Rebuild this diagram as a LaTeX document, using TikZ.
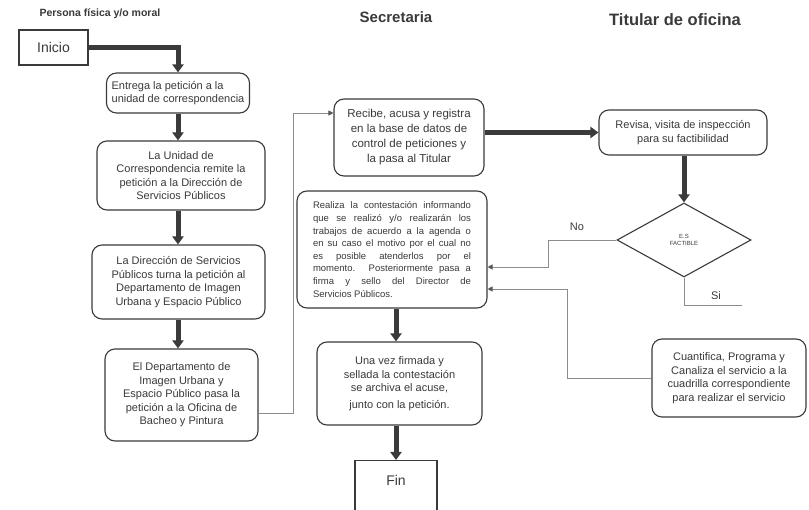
\documentclass[tikz,border=0pt]{standalone}
\usepackage{fontspec}
\setmainfont{Liberation Sans}
\usetikzlibrary{arrows.meta,shapes.geometric,calc}
\definecolor{ink}{HTML}{3A3A3A}
\definecolor{wire}{HTML}{8C8C8C}
\newcommand{\fsz}[2]{\fontsize{#1}{#2}\selectfont}
\begin{document}
\begin{tikzpicture}[x=1pt,y=-1pt,
  every node/.style={text=ink},
  card/.style={draw=ink, line width=1.1pt, rounded corners=10pt, align=center,
    inner sep=0pt, font=\fsz{11}{13.5}},
  plain/.style={draw=ink, line width=1.1pt, inner sep=0pt, font=\fsz{14}{16}},
  flow/.style={draw=ink, line width=5pt, -{Triangle[width=11pt,length=8pt]}},
  link/.style={draw=wire, line width=0.9pt, -{Triangle[width=5pt,length=5pt,color=ink!85]}},
  wireline/.style={draw=wire, line width=0.9pt},
  title/.style={font=\bfseries\fsz{15}{18}},
  tag/.style={font=\fsz{11}{13}}
]
\useasboundingbox (0,0) rectangle (809,510);
\fill[white] (0,0) rectangle (809,510);

% column headings
\node[title, font=\bfseries\fsz{10.5}{12}, anchor=west] (tp) at (36,14) {Persona física y/o moral};
\node[title] (ts) at (396,17) {Secretaria};
\node[title, font=\bfseries\fsz{16.5}{19}] (tt) at (675,20) {Titular de oficina};

% requester column
\node[plain, minimum width=69, minimum height=35] (ini) at (53.5,47.5) {Inicio};
\node[card, minimum width=143, minimum height=40, align=left] (e1) at (178,93)
  {Entrega la petición a la\\unidad de correspondencia};
\node[card, minimum width=168, minimum height=69] (e2) at (181,175.5)
  {La Unidad de\\Correspondencia remite la\\petición a la Dirección de\\Servicios Públicos};
\node[card, minimum width=173, minimum height=74] (e3) at (178.5,282)
  {La Dirección de Servicios\\Públicos turna la petición al\\Departamento de Imagen\\Urbana y Espacio Público};
\node[card, minimum width=153, minimum height=92] (e4) at (181.5,395)
  {El Departamento de\\Imagen Urbana y\\Espacio Público pasa la\\petición a la Oficina de\\Bacheo y Pintura};

% secretary column
\node[card, minimum width=150, minimum height=77, font=\fsz{11.5}{15}] (r1) at (409,137.5)
  {Recibe, acusa y registra\\en la base de datos de\\control de peticiones y\\la pasa al Titular};
\node[card, minimum width=190, minimum height=117, align=justify, text width=158,
  font=\fsz{9.5}{12.6}] (r2) at (392,249.5)
  {Realiza la contestación informando\linebreak
   que se realizó y/o realizarán los\linebreak
   trabajos de acuerdo a la agenda o\linebreak
   en su caso el motivo por el cual no\linebreak
   es posible atenderlos por el\linebreak
   momento. Posteriormente pasa a\linebreak
   firma y sello del Director de\linebreak
   Servicios Públicos.};
\node[card, minimum width=165, minimum height=83] (r3) at (399.5,383.5)
  {Una vez firmada y\\sellada la contestación\\se archiva el acuse,\\[3pt]junto con la petición.};
\node[plain, minimum width=82, anchor=north, text height=25pt, text depth=37pt] (fin) at (396,460) {Fin};

% office head column
\node[card, minimum width=168, minimum height=45] (rv) at (683,132.5)
  {Revisa, visita de inspección\\para su factibilidad};
\node[diamond, draw=ink, line width=1.1pt, minimum width=134, minimum height=74,
  inner sep=0pt, aspect=1.8, align=center, font=\fsz{6}{7.5}] (dia) at (684,240)
  {E.S\\FACTIBLE};
\node[card, minimum width=154, minimum height=78] (cu) at (729,378)
  {Cuantifica, Programa y\\Canaliza el servicio a la\\cuadrilla correspondiente\\para realizar el servicio};

% bend points of the thin connectors
\coordinate (upA) at (293,113);
\coordinate (noB) at (548,240);
\coordinate (cuB) at (567,289);
\coordinate (siEnd) at (742,305);

% main flow
\draw[flow] (ini.east) -| (e1.north);
\draw[flow] (e1.south) -- (e1.south |- e2.north);
\draw[flow] (e2.south -| e1.south) -- (e3.north -| e1.south);
\draw[flow] (e3.south -| e1.south) -- (e4.north -| e1.south);
\draw[flow] (rv.west -| r1.east) -- (rv.west);
\draw[flow] (rv.south -| dia.north) -- (dia.north);
\draw[flow] (r2.south -| fin.north) -- (r3.north -| fin.north);
\draw[flow] (r3.south -| fin.north) -- (fin.north);

% thin connectors
\draw[link] ([yshift=-18pt]e4.east) -| (upA) -- (upA -| r1.west);
\draw[link] (dia.west) -- (noB) |- ([yshift=-17.5pt]r2.east);
\draw[link] (cu.west) -| (cuB) -- (cuB -| r2.east);
\draw[wireline] (dia.south) |- (siEnd);

\node[tag] (no) at (577,227) {No};
\node[tag] (si) at (716,296) {Si};
\end{tikzpicture}
\end{document}
